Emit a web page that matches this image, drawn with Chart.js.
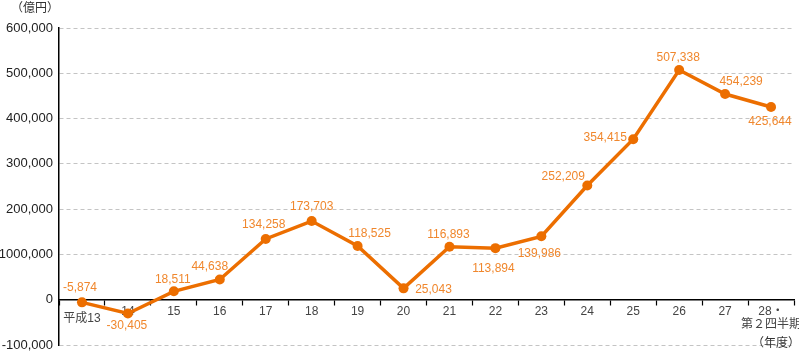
<!DOCTYPE html>
<html>
<head>
<meta charset="utf-8">
<script src="https://cdn.jsdelivr.net/npm/chart.js@4/dist/chart.umd.min.js"></script>
<style>
  html, body { margin: 0; padding: 0; background: #fff; }
  #wrap { width: 799px; height: 352px; position: relative; }
</style>
</head>
<body>
<div id="wrap"><canvas id="c" width="799" height="352"></canvas></div>
<script>
// ---- data ----
const categories = ['平成13', '14', '15', '16', '17', '18', '19', '20', '21', '22', '23', '24', '25', '26', '27', ['28・', '第２四半期']];
const values = [-5874, -30405, 18511, 44638, 134258, 173703, 118525, 25043, 116893, 113894, 139986, 252209, 354415, 507338, 454239, 425644];
const dataLabels = ['-5,874', '-30,405', '18,511', '44,638', '134,258', '173,703', '118,525', '25,043', '116,893', '113,894', '139,986', '252,209', '354,415', '507,338', '454,239', '425,644'];
const yTickLabels = { '-100000': '-100,000', '0': '0', '100000': '1000,000', '200000': '200,000', '300000': '300,000', '400000': '400,000', '500000': '500,000', '600000': '600,000' };
const unitLabel = '（億円）';
const xUnitLabel = '（年度）';

// label placement (offset of label centre from its point)
const labelOffsets = [[-2,-15],[-1,12],[-1,-12],[-10,-13],[-2,-14],[0,-14],[12,-12],[30,1],[-1,-12],[-2,21],[-2,17],[-24,-9],[-28,-2],[-1,-12],[16,-12],[-1,15]];

const FONT = '"Liberation Sans", Arial, "Noto Sans CJK JP", sans-serif';
const LINE = 'rgb(236,110,0)';
const LABEL = 'rgb(240,135,45)';

const labelPlugin = {
  id: 'labels',
  afterDatasetsDraw(chart) {
    const ctx = chart.ctx;
    const meta = chart.getDatasetMeta(0);
    ctx.save();
    ctx.font = '12px ' + FONT;
    ctx.fillStyle = LABEL;
    ctx.textAlign = 'center';
    ctx.textBaseline = 'middle';
    meta.data.forEach((pt, i) => {
      const o = labelOffsets[i];
      ctx.fillText(dataLabels[i], pt.x + o[0], pt.y + o[1]);
    });
    ctx.restore();
  },
  afterDraw(chart) {
    const ctx = chart.ctx;
    ctx.save();
    ctx.font = '12px ' + FONT;
    ctx.fillStyle = '#333';
    ctx.textBaseline = 'middle';
    ctx.textAlign = 'left';
    ctx.fillText(unitLabel, 11, 9);
    ctx.textAlign = 'right';
    ctx.fillText(xUnitLabel, 800, 344);
    ctx.restore();
  }
};

function zeroPad(s) { s.paddingTop = 0; s.paddingBottom = 0; s.paddingLeft = 0; s.paddingRight = 0; }

new Chart(document.getElementById('c'), {
  type: 'line',
  data: {
    labels: categories,
    datasets: [{
      data: values,
      borderColor: LINE,
      backgroundColor: LINE,
      borderWidth: 3.5,
      pointRadius: 5,
      pointHoverRadius: 5,
      pointBackgroundColor: LINE,
      pointBorderWidth: 0,
      tension: 0,
      clip: false
    }]
  },
  options: {
    responsive: false,
    animation: false,
    events: [],
    layout: { padding: { left: 0, right: 4, top: 28, bottom: 7 } },
    plugins: { legend: { display: false }, tooltip: { enabled: false } },
    scales: {
      x: {
        type: 'category',
        position: { y: 0 },
        offset: true,
        afterFit(s) { zeroPad(s); },
        grid: {
          offset: true,
          drawOnChartArea: false,
          drawTicks: true,
          tickLength: 5,
          tickColor: '#000',
          tickWidth: 1.2
        },
        border: { display: true, color: '#000', width: 1.5 },
        ticks: {
          padding: 0,
          autoSkip: false,
          maxRotation: 0,
          color: '#444',
          font: (ctx) => ({ family: FONT, size: 12, lineHeight: ctx.index === 0 ? 2.35 : 1.1 })
        }
      },
      y: {
        min: -100000,
        max: 600000,
        afterFit(s) { s.width = 59; zeroPad(s); },
        afterBuildTicks(s) {
          s.ticks = Object.keys(yTickLabels).map(Number).sort((a, b) => a - b).map(v => ({ value: v }));
        },
        grid: {
          drawTicks: false,
          color: (ctx) => (ctx.tick && ctx.tick.value === 0) ? 'rgba(0,0,0,0)' : '#c4c4c4',
          lineWidth: 1
        },
        border: { display: true, color: '#000', width: 1.5, dash: [4, 3], dashOffset: 0 },
        ticks: {
          padding: 6,
          color: '#222',
          font: { family: FONT, size: 13, lineHeight: 1 },
          callback: (v) => yTickLabels[String(v)]
        }
      }
    }
  },
  plugins: [labelPlugin]
});
</script>
</body>
</html>
